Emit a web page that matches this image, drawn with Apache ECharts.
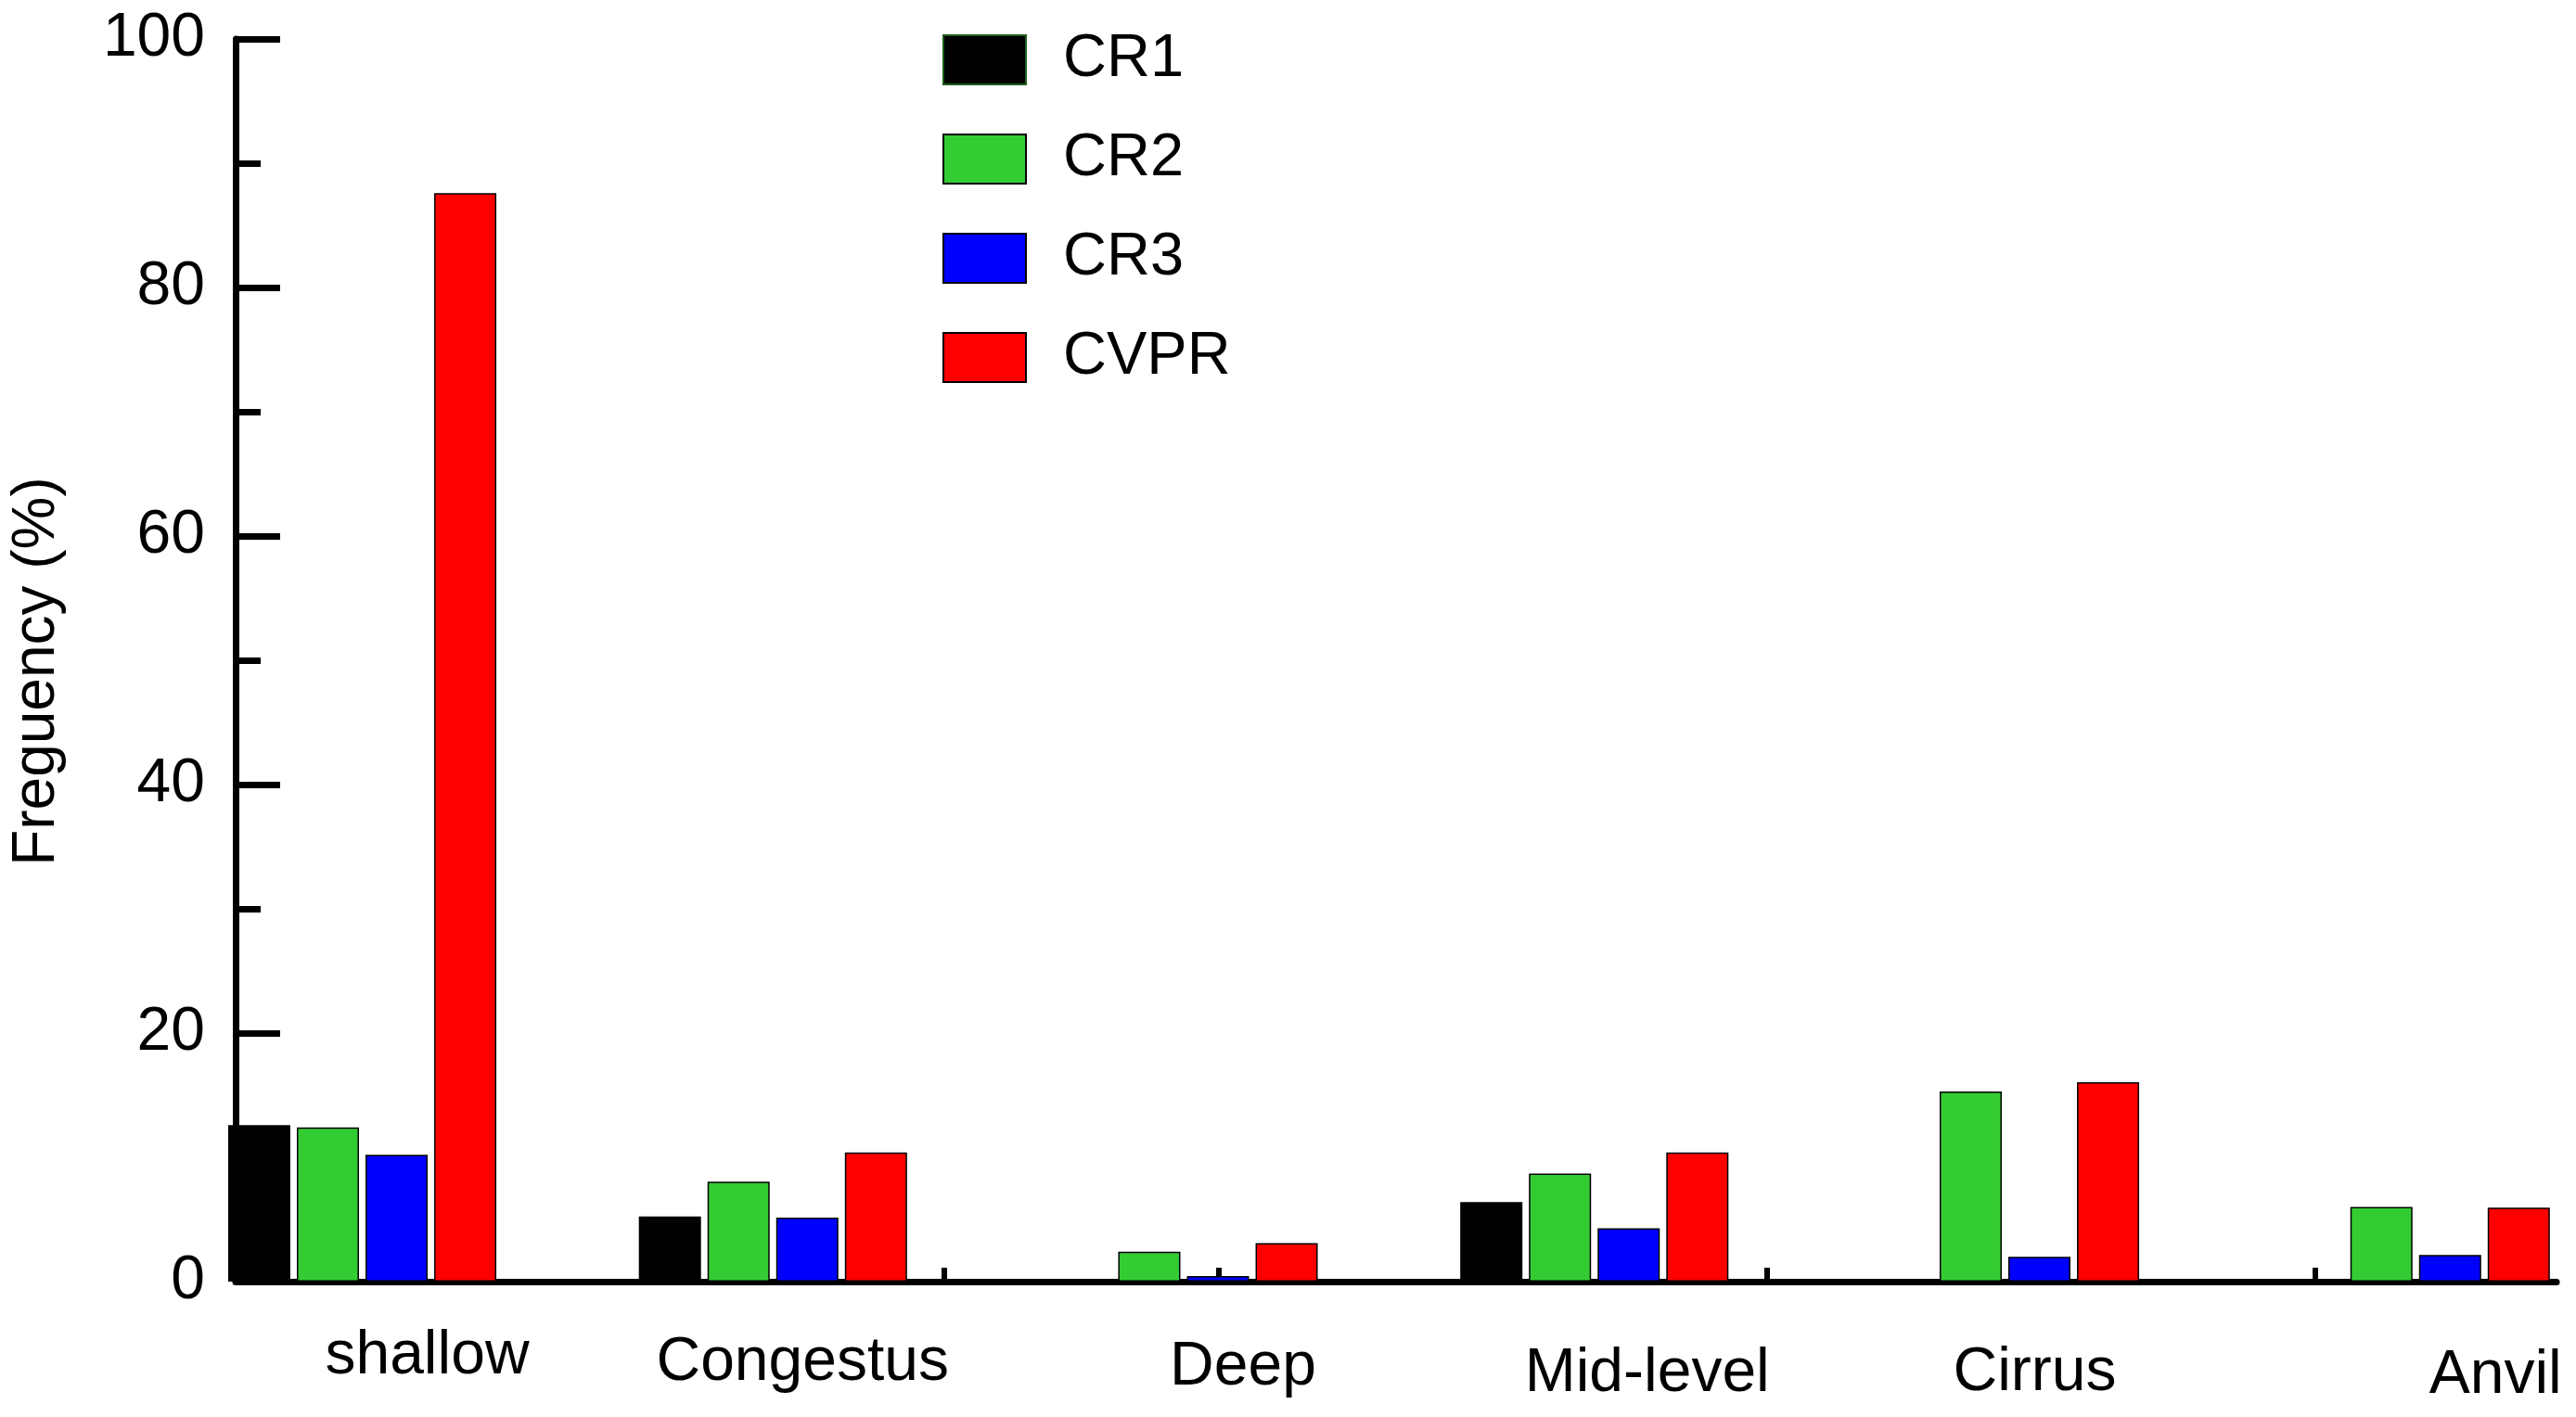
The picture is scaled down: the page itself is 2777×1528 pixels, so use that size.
<!DOCTYPE html>
<html>
<head>
<meta charset="utf-8">
<script src="https://cdn.jsdelivr.net/npm/echarts@6/dist/echarts.min.js"></script>
<style>
html,body{margin:0;padding:0;background:#fff;}
#chart{width:2777px;height:1528px;}
</style>
</head>
<body>
<div id="chart"></div>
<script>
const categories = ['shallow', 'Congestus', 'Deep', 'Mid-level', 'Cirrus', 'Anvil'];
const seriesNames = ['CR1', 'CR2', 'CR3', 'CVPR'];
const cr1 = [12.6, 5.25, 0, 6.4, 0, 0];
const cr2 = [12.4, 8.05, 2.4, 8.7, 15.3, 6.0];
const cr3 = [10.2, 5.15, 0.45, 4.3, 2.0, 2.15];
const cvpr = [87.6, 10.4, 3.1, 10.4, 16.05, 5.95];
const yMin = 0, yMax = 100, yInterval = 20;
const axisTitle = 'Freguency (%)';

// label placement tweaks (style only)
const labelShiftX = [70, 32, 64, 57, 32, 86];
const labelShiftY = [0, 14, 24, 38, 35, 42];
const colors = ['#000000', '#33CC33', '#0000FF', '#FF0000'];
const seriesData = [cr1, cr2, cr3, cvpr];

const FONT = '"Liberation Sans", Arial, Helvetica, sans-serif';
const rich = {};
categories.forEach((c, i) => {
  rich['c' + i] = {
    fontSize: 66, color: '#000', fontFamily: FONT, lineHeight: 66,
    padding: [labelShiftY[i], 0, 0, 2 * labelShiftX[i]]
  };
});

const chart = echarts.init(document.getElementById('chart'), null, {renderer: 'canvas'});
const gridTop = 42, gridBottom = 146;
const option = {
  animation: false,
  backgroundColor: '#ffffff',
  textStyle: {fontFamily: FONT},
  grid: [
    {left: 235, right: 21, top: gridTop, bottom: gridBottom},
    {left: 390.5, right: 172.75, top: gridTop, bottom: gridBottom},
    {left: 427, right: 281.5, top: gridTop, bottom: gridBottom}
  ],
  legend: {
    orient: 'vertical', left: 1011, top: 27,
    itemWidth: 89, itemHeight: 53, itemGap: 42, icon: 'rect',
    formatter: name => '{a|' + name + '}',
    textStyle: {
      fontSize: 65, color: '#000', fontFamily: FONT,
      rich: {a: {fontSize: 65, color: '#000', fontFamily: FONT, lineHeight: 53, padding: [0, 0, 0, 35]}}
    },
    data: [
      {name: 'CR1', itemStyle: {borderColor: '#1d5e1d', borderWidth: 2}},
      {name: 'CR2'}, {name: 'CR3'}, {name: 'CVPR'}
    ]
  },
  xAxis: [
    {
      gridIndex: 0, type: 'value', min: 0, max: 1,
      axisLine: {show: true, lineStyle: {color: '#000', width: 7}},
      axisTick: {show: false}, axisLabel: {show: false}, splitLine: {show: false}
    },
    {
      gridIndex: 1, type: 'category', data: categories, boundaryGap: false,
      axisLine: {show: false}, axisTick: {show: false}, splitLine: {show: false},
      axisLabel: {
        interval: 0, margin: 48, fontSize: 66, color: '#000', lineHeight: 66,
        formatter: (v, i) => '{c' + i + '|' + v + '}', rich: rich
      }
    },
    {
      gridIndex: 2, type: 'value', min: 0, max: 7, interval: 1,
      axisLine: {show: false},
      axisTick: {show: true, inside: true, length: 15, lineStyle: {color: '#000', width: 6}},
      axisLabel: {show: false}, splitLine: {show: false}
    }
  ],
  yAxis: [
    {
      gridIndex: 0, type: 'value', min: yMin, max: yMax, interval: yInterval,
      name: axisTitle, nameLocation: 'middle', nameGap: 182,
      nameTextStyle: {fontSize: 64, color: '#000', fontFamily: FONT, padding: [0, 24, 0, 0]},
      axisLine: {show: true, lineStyle: {color: '#000', width: 7}},
      axisTick: {show: true, inside: true, length: 48, lineStyle: {color: '#000', width: 7}},
      minorTick: {show: true, splitNumber: 2, length: 27, lineStyle: {color: '#000', width: 7}},
      axisLabel: {fontSize: 66, color: '#000', margin: 33},
      splitLine: {show: false}
    },
    {gridIndex: 1, type: 'value', min: yMin, max: yMax, show: false},
    {gridIndex: 2, type: 'value', min: yMin, max: yMax, show: false}
  ],
  series: seriesNames.map((n, k) => ({
    name: n, type: 'bar', xAxisIndex: 1, yAxisIndex: 1,
    data: seriesData[k], barWidth: 67, barGap: '10.5%', clip: false,
    itemStyle: {color: colors[k], borderColor: '#000', borderWidth: 1.5},
    emphasis: {disabled: true}
  }))
};
chart.setOption(option);
</script>
</body>
</html>
